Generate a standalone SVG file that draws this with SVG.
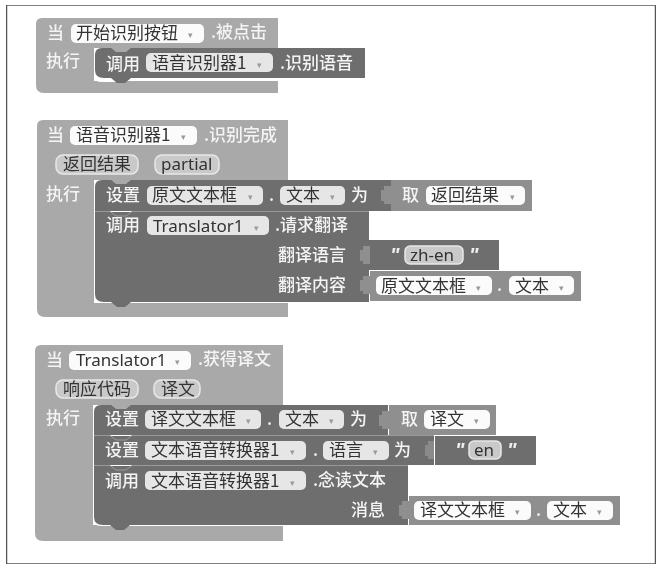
<svg xmlns="http://www.w3.org/2000/svg" width="660" height="570" viewBox="0 0 660 570">
<defs>
<style>
text{font-family:"Noto Sans CJK SC","Noto Sans",sans-serif;font-size:17px}
.ev{fill:#a9a9a9}
.st{fill:#6e6e6e}
.val{fill:#8f8f8f}
.fw{fill:#fbfbfb}
.fd{fill:#e6e6e6}
.lt{fill:#f4f4f4;font-weight:500}
.dk{fill:#333}
.lat{font-family:"Noto Sans",sans-serif}
.arg{fill:#c9c9c9;stroke:#e8e8e8;stroke-width:1.5}
.dd{fill:#9a9a9a;font-size:9px}
.q{font-family:"Liberation Sans",sans-serif;font-size:20px;font-style:italic;font-weight:700;fill:#eee}
.sep{stroke:#9a9a9a;stroke-width:1;fill:none}
.edge{fill:#8f8f8f}
.dent{fill:#a9a9a9}
</style>
<filter id="soft" x="0" y="0" width="100%" height="100%"><feGaussianBlur stdDeviation="0.4"/></filter>
</defs>
<rect x="0" y="0" width="660" height="570" fill="#fff"/>
<g filter="url(#soft)">
<rect x="6.500" y="5" width="649" height="559" fill="#fff" stroke="#555" stroke-width="1.500"/>

<g id="connectors"></g>

<g id="block1">
<path class="ev" d="M42 18H278V48H94V81H278V93H44Q36 93 36 85V24Q36 18 42 18Z"/>
<path d="M94 68V76Q94 82 102 82H120L118 78H106Q100 78 100 72V68Z" fill="#fff"/>
<path class="st" d="M102 48H365V78H131L125 83H117L111 78H104Q95 78 95 70V55Q95 48 102 48Z"/>
<path class="dent" d="M110 47H132L126 52H116Z"/>
<text class="lt" x="47" y="39">当</text>
<rect class="fw" x="71" y="24" width="133" height="19" rx="5"/>
<text class="dk" x="76" y="39">开始识别按钮</text>
<text class="dd" x="188" y="38">▾</text>
<text class="lt" x="211" y="38">.被点击</text>
<text class="lt" x="46" y="67">执行</text>
<text class="lt" x="106" y="70">调用</text>
<rect class="fd" x="146" y="53" width="127" height="19" rx="5"/>
<text class="dk" x="152" y="69">语音识别器1</text>
<text class="dd" x="257" y="68">▾</text>
<text class="lt" x="280" y="69">.识别语音</text>
</g>

<g id="block2">
<path class="ev" d="M43 120H288V180H94V303H288V317H45Q37 317 37 309V126Q37 120 43 120Z"/>
<path d="M94 290V296Q94 303 102 303H288V301H106Q100 301 100 296V290Z" fill="#fff"/>
<g id="set-original">
<path class="st" d="M102 180H391V211H95V187Q95 180 102 180Z"/>
<path class="dent" d="M110 179H132L126 184H116Z"/>
<rect class="val" x="391" y="180" width="141" height="31"/>
<path class="edge" d="M381 190h3v-4h7v18h-7v-3h-3Z"/>
<text class="lt" x="106" y="201">设置</text>
<rect class="fd" x="147" y="186" width="116" height="19" rx="5"/>
<text class="dk" x="152" y="201">原文文本框</text>
<text class="dd" x="248" y="200">▾</text>
<text class="lt" x="269" y="201">.</text>
<rect class="fd" x="280" y="186" width="65" height="19" rx="5"/>
<text class="dk" x="286" y="201">文本</text>
<text class="dd" x="330" y="200">▾</text>
<text class="lt" x="351" y="201">为</text>
<text class="lt" x="402" y="201">取</text>
<rect class="fw" x="426" y="186" width="99" height="19" rx="5"/>
<text class="dk" x="431" y="201">返回结果</text>
<text class="dd" x="510" y="200">▾</text>
</g>
<g id="call-translator">
<path class="st" d="M95 212H369V240H370V270H369V302H131L125 307H117L111 302H104Q95 302 95 294Z"/>
<path d="M95 211.500H110L116 216H126L132 211.500H369" class="sep"/>
<rect class="st" x="370" y="240" width="129" height="30"/>
<rect class="val" x="370" y="271" width="211" height="30"/>
<path d="M360 250h3v-4h7v18h-7v-3h-3Z" class="edge"/>
<path d="M360 280h3v-4h7v18h-7v-3h-3Z" class="edge"/>
<text class="lt" x="106" y="231">调用</text>
<rect class="fd" x="147" y="216" width="122" height="19" rx="5"/>
<text class="dk lat" x="153" y="232">Translator1</text>
<text class="dd" x="254" y="231">▾</text>
<text class="lt" x="275" y="231">.请求翻译</text>
<text class="lt" x="278" y="261">翻译语言</text>
<text class="lt" x="278" y="291">翻译内容</text>
<text class="q" x="390" y="262">"</text>
<rect class="arg" x="405" y="246" width="58" height="18" rx="5"/>
<text class="dk lat" x="410" y="261">zh-en</text>
<text class="q" x="469" y="262">"</text>
<rect class="fw" x="376" y="276" width="116" height="19" rx="5"/>
<text class="dk" x="381" y="292">原文文本框</text>
<text class="dd" x="476" y="291">▾</text>
<text class="lt" x="497" y="291">.</text>
<rect class="fw" x="509" y="276" width="65" height="19" rx="5"/>
<text class="dk" x="515" y="292">文本</text>
<text class="dd" x="559" y="291">▾</text>
</g>
<text class="lt" x="47" y="141">当</text>
<rect class="fw" x="70" y="126" width="127" height="19" rx="5"/>
<text class="dk" x="76" y="141">语音识别器1</text>
<text class="dd" x="181" y="140">▾</text>
<text class="lt" x="204" y="141">.识别完成</text>
<rect class="arg" x="56" y="155" width="82" height="19" rx="7"/>
<text class="dk" x="63" y="170">返回结果</text>
<rect class="arg" x="155" y="155" width="64" height="19" rx="7"/>
<text class="dk lat" x="161" y="170">partial</text>
<text class="lt" x="46" y="200">执行</text>
</g>

<g id="block3">
<path class="ev" d="M41 345H283V405H93V525H283V541H43Q35 541 35 533V351Q35 345 41 345Z"/>
<path d="M93 512V519Q93 526 101 526H283V524H105Q99 524 99 519V512Z" fill="#fff"/>
<g id="set-translated">
<path class="st" d="M101 405H388V435H94V412Q94 405 101 405Z"/>
<path class="dent" d="M110 404H132L126 409H116Z"/>
<rect class="val" x="389" y="405" width="107" height="30"/>
<path class="edge" d="M379 415h3v-4h7v18h-7v-3h-3Z"/>
<text class="lt" x="105" y="425">设置</text>
<rect class="fd" x="145" y="410" width="116" height="19" rx="5"/>
<text class="dk" x="151" y="425">译文文本框</text>
<text class="dd" x="246" y="424">▾</text>
<text class="lt" x="267" y="425">.</text>
<rect class="fd" x="279" y="410" width="65" height="19" rx="5"/>
<text class="dk" x="285" y="425">文本</text>
<text class="dd" x="329" y="424">▾</text>
<text class="lt" x="350" y="425">为</text>
<text class="lt" x="401" y="425">取</text>
<rect class="fw" x="424" y="410" width="66" height="19" rx="5"/>
<text class="dk" x="430" y="425">译文</text>
<text class="dd" x="474" y="424">▾</text>
</g>
<g id="set-language">
<rect class="st" x="94" y="436" width="340" height="29"/>
<rect class="st" x="435" y="436" width="101" height="29"/>
<path class="sep" d="M94 435.500H110L116 440H126L132 435.500H434"/>
<path d="M425 445h3v-4h6v18h-6v-3h-3Z" fill="#8a8a8a"/>
<text class="lt" x="105" y="456">设置</text>
<rect class="fd" x="145" y="441" width="161" height="19" rx="5"/>
<text class="dk" x="151" y="456">文本语音转换器1</text>
<text class="dd" x="290" y="455">▾</text>
<text class="lt" x="313" y="456">.</text>
<rect class="fd" x="323" y="441" width="66" height="19" rx="5"/>
<text class="dk" x="329" y="456">语言</text>
<text class="dd" x="373" y="455">▾</text>
<text class="lt" x="394" y="456">为</text>
<text class="q" x="455" y="457">"</text>
<rect class="arg" x="469" y="441" width="32" height="18" rx="5"/>
<text class="dk lat" x="474" y="456">en</text>
<text class="q" x="507" y="457">"</text>
</g>
<g id="call-tts">
<path class="st" d="M94 466H408V525H130L124 530H116L110 525H103Q94 525 94 517Z"/>
<path class="sep" d="M94 465.500H110L116 470H126L132 465.500H408"/>
<rect class="val" x="409" y="496" width="211" height="29"/>
<path class="edge" d="M399 505h3v-4h7v18h-7v-3h-3Z"/>
<text class="lt" x="105" y="487">调用</text>
<rect class="fd" x="145" y="471" width="161" height="19" rx="5"/>
<text class="dk" x="151" y="487">文本语音转换器1</text>
<text class="dd" x="290" y="486">▾</text>
<text class="lt" x="313" y="486">.念读文本</text>
<text class="lt" x="351" y="516">消息</text>
<rect class="fw" x="414" y="501" width="117" height="19" rx="5"/>
<text class="dk" x="420" y="516">译文文本框</text>
<text class="dd" x="515" y="515">▾</text>
<text class="lt" x="536" y="516">.</text>
<rect class="fw" x="547" y="501" width="66" height="19" rx="5"/>
<text class="dk" x="553" y="516">文本</text>
<text class="dd" x="597" y="515">▾</text>
</g>
<text class="lt" x="46" y="366">当</text>
<rect class="fw" x="69" y="351" width="122" height="19" rx="5"/>
<text class="dk lat" x="76" y="366">Translator1</text>
<text class="dd" x="175" y="365">▾</text>
<text class="lt" x="198" y="365">.获得译文</text>
<rect class="arg" x="56" y="380" width="82" height="18" rx="7"/>
<text class="dk" x="63" y="395">响应代码</text>
<rect class="arg" x="154" y="380" width="46" height="18" rx="7"/>
<text class="dk" x="161" y="395">译文</text>
<text class="lt" x="46" y="424">执行</text>
</g>
</g>
</svg>
